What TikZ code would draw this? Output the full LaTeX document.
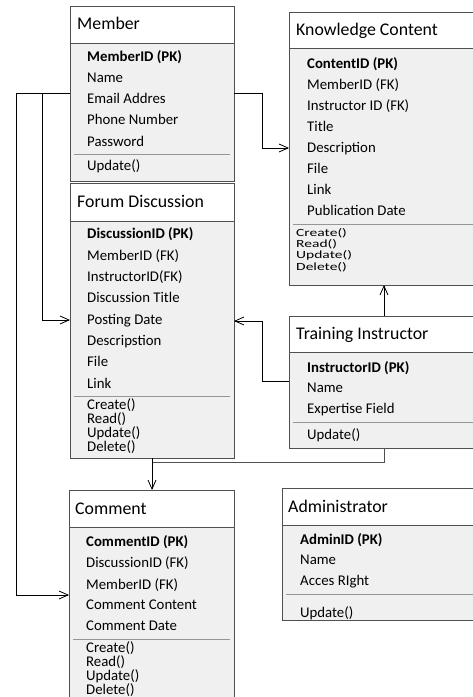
\documentclass[tikz,border=0pt]{standalone}
\usepackage{fontspec}
\setmainfont{Carlito}
\usetikzlibrary{arrows.meta}
\definecolor{boxc}{RGB}{80,80,80}
\definecolor{bodyc}{RGB}{240,240,240}
\definecolor{sepc}{RGB}{150,150,150}
\begin{document}
\begin{tikzpicture}[x=1pt,y=-1pt,
  box/.style={draw=boxc, fill=bodyc, line width=1pt, anchor=north west, inner sep=0pt, outer sep=0pt},
  hdr/.style={draw=boxc, fill=white, line width=1pt, anchor=north west, inner sep=0pt, outer sep=0pt},
  ttl/.style={anchor=base west, inner sep=0pt, font=\fontsize{17.8}{20}\selectfont},
  att/.style={anchor=base west, inner sep=0pt, font=\fontsize{14.8}{16}\selectfont},
  pk/.style={anchor=base west, inner sep=0pt, font=\fontsize{14.8}{16}\selectfont\bfseries},
  sqz/.style={anchor=base west, inner sep=0pt, font=\fontsize{14.8}{16}\selectfont},
  sepline/.style={draw=sepc, line width=0.8pt},
  conn/.style={draw=black, line width=0.8pt},
  arr/.style={conn, -{Straight Barb[length=9pt,width=8pt]}}]
\useasboundingbox (0,0) rectangle (473,697);
\clip (0,0) rectangle (473,697);

% ---------- Member ----------
\node[box, minimum width=164pt, minimum height=175pt] (member) at (70,6) {};
\node[hdr, minimum width=164pt, minimum height=37pt] (memberh) at (70,6) {};
\node[ttl] (m0) at (77,29) {Member};
\node[pk]  (m1) at (87,61.5) {MemberID (PK)};
\node[att] (m2) at (87,82.5) {Name};
\node[att] (m3) at (87,103.5) {Email Addres};
\node[att] (m4) at (87,124.5) {Phone Number};
\node[att] (m5) at (87,146) {Password};
\draw[sepline] (74,154) -- (230,154);
\node[att] (m6) at (87,170) {Update()};

% ---------- Forum Discussion ----------
\node[box, minimum width=164pt, minimum height=275pt] (forum) at (70,183) {};
\node[hdr, minimum width=164pt, minimum height=38pt] (forumh) at (70,183) {};
\node[ttl] (f0) at (77,207) {Forum Discussion};
\node[pk]  (f1) at (87,238.5) {DiscussionID (PK)};
\node[att] (f2) at (87,260.5) {MemberID (FK)};
\node[att] (f3) at (87,281.5) {InstructorID(FK)};
\node[att] (f4) at (87,302.5) {Discussion Title};
\node[att] (f5) at (87,324.5) {Posting Date};
\node[att] (f6) at (87,345.5) {Descripstion};
\node[att] (f7) at (87,366.5) {File};
\node[att] (f8) at (87,388.5) {Link};
\draw[sepline] (74,396) -- (230,396);
\node[att] (f9)  at (87,409.5) {Create()};
\node[att] (f10) at (87,423.5) {Read()};
\node[att] (f11) at (87,437.5) {Update()};
\node[att] (f12) at (87,451.5) {Delete()};

% ---------- Knowledge Content ----------
\node[box, minimum width=200pt, minimum height=273pt] (kc) at (289,12) {};
\node[hdr, minimum width=200pt, minimum height=36pt] (kch) at (289,12) {};
\node[ttl] (k0) at (296,35) {Knowledge Content};
\node[pk]  (k1) at (307,68.5) {ContentID (PK)};
\node[att] (k2) at (307,89) {MemberID (FK)};
\node[att] (k3) at (307,110.5) {Instructor ID (FK)};
\node[att] (k4) at (307,131.5) {Title};
\node[att] (k5) at (307,152.5) {Description};
\node[att] (k6) at (307,173.5) {File};
\node[att] (k7) at (307,194.5) {Link};
\node[att] (k8) at (307,215.5) {Publication Date};
\draw[sepline] (293,224) -- (480,224);
\node[sqz] (k9)  at (296,236) {\scalebox{1.05}[0.74]{Create()}};
\node[sqz] (k10) at (296,247.3) {\scalebox{1.05}[0.74]{Read()}};
\node[sqz] (k11) at (296,258.6) {\scalebox{1.05}[0.74]{Update()}};
\node[sqz] (k12) at (296,270) {\scalebox{1.05}[0.74]{Delete()}};

% ---------- Training Instructor ----------
\node[box, minimum width=200pt, minimum height=132pt] (ti) at (289,316) {};
\node[hdr, minimum width=200pt, minimum height=36pt] (tih) at (289,316) {};
\node[ttl] (t0) at (296,339) {Training Instructor};
\node[pk]  (t1) at (307,372.5) {InstructorID (PK)};
\node[att] (t2) at (307,392.5) {Name};
\node[att] (t3) at (307,413.5) {Expertise Field};
\draw[sepline] (293,422) -- (480,422);
\node[att] (t4) at (307,439) {Update()};

% ---------- Comment ----------
\node[box, minimum width=165pt, minimum height=220pt] (comment) at (69,490) {};
\node[hdr, minimum width=165pt, minimum height=37pt] (commenth) at (69,490) {};
\node[ttl] (c0) at (75,514) {Comment};
\node[pk]  (c1) at (86,546.5) {CommentID (PK)};
\node[att] (c2) at (86,567.5) {DiscussionID (FK)};
\node[att] (c3) at (86,589.5) {MemberID (FK)};
\node[att] (c4) at (86,609.5) {Comment Content};
\node[att] (c5) at (86,630.5) {Comment Date};
\draw[sepline] (73,639) -- (230,639);
\node[att] (c6) at (86,652.5) {Create()};
\node[att] (c7) at (86,666.5) {Read()};
\node[att] (c8) at (86,680.5) {Update()};
\node[att] (c9) at (86,694.5) {Delete()};

% ---------- Administrator ----------
\node[box, minimum width=210pt, minimum height=132pt] (admin) at (282,488) {};
\node[hdr, minimum width=210pt, minimum height=37pt] (adminh) at (282,488) {};
\node[ttl] (a0) at (288,512) {Administrator};
\node[pk]  (a1) at (300,544.5) {AdminID (PK)};
\node[att] (a2) at (300,564.5) {Name};
\node[att] (a3) at (300,585.5) {Acces RIght};
\draw[sepline] (286,594) -- (480,594);
\node[att] (a4) at (300,617) {Update()};

% ---------- connectors ----------
\coordinate (p1) at (16,93);
\coordinate (p2) at (16,595);
\coordinate (p3) at (42,93);
\coordinate (p4) at (42,320);
\coordinate (p5) at (262,93);
\coordinate (p6) at (262,148);
\coordinate (p7) at (262,381);
\coordinate (p8) at (262,321);
\coordinate (p9) at (384,462);
\coordinate (p10) at (152,462);

\draw[arr] (member.west |- p1) -- (p1) -- (p2) -- (comment.west |- p2);
\draw[arr] (p3) -- (p4) -- (forum.west |- p4);
\draw[arr] (member.east |- p5) -- (p5) -- (p6) -- (kc.west |- p6);
\draw[arr] (ti.west |- p7) -- (p7) -- (p8) -- (forum.east |- p8);
\draw[arr] (ti.north -| p9) -- (kc.south -| p9);
\draw[conn, draw=boxc] (ti.south -| p9) -- (p9) -- (p10);
\draw[arr] (forum.south -| p10) -- (comment.north -| p10);
\end{tikzpicture}
\end{document}
